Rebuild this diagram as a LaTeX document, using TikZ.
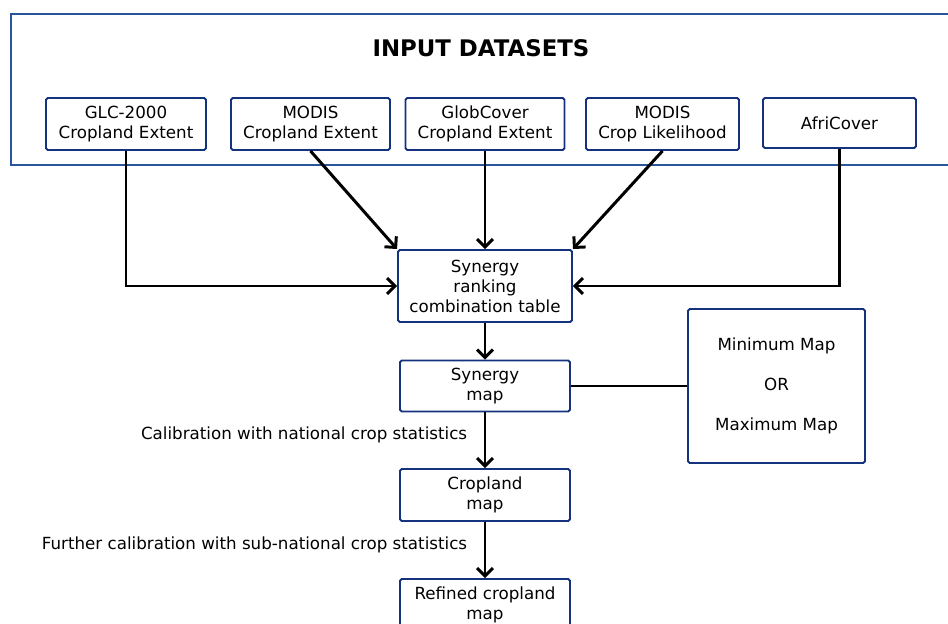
\documentclass[tikz,border=0pt]{standalone}
\usepackage{fontspec}
\setmainfont{DejaVu Sans}
\usepackage{xcolor}
\usepackage{tikz}
\usetikzlibrary{arrows.meta,calc}
\definecolor{boxblue}{RGB}{20,50,125}
\definecolor{frameblue}{RGB}{40,85,155}

\begin{document}
\begin{tikzpicture}[
  databox/.style={draw=boxblue,line width=1.1pt,rounded corners=1pt,align=center,inner sep=0pt,
    minimum height=1.04cm,font=\fontsize{9.5}{11.4}\selectfont},
  flow/.style={line width=1.7pt,-{Straight Barb[length=4.5pt,width=9pt]}},
  note/.style={font=\fontsize{9.5}{11.4}\selectfont}]
\clip (0cm,0cm) rectangle (18.96cm,-12.48cm);
\draw[frameblue,line width=1.1pt] (0.22cm,-0.28cm) rectangle (19.3cm,-3.3cm);
\node[font=\bfseries\fontsize{13}{15}\selectfont] (title) at (9.62cm,-0.96cm) {INPUT DATASETS};
\node[databox,minimum width=3.2cm] (glc) at (2.52cm,-2.48cm) {GLC-2000\\Cropland Extent};
\node[databox,minimum width=3.18cm] (modisce) at (6.21cm,-2.48cm) {MODIS\\Cropland Extent};
\node[databox,minimum width=3.18cm] (globcover) at (9.70cm,-2.48cm) {GlobCover\\Cropland Extent};
\node[databox,minimum width=3.06cm] (modiscl) at (13.25cm,-2.48cm) {MODIS\\Crop Likelihood};
\node[databox,minimum width=3.06cm,minimum height=1.0cm] (africover) at (16.79cm,-2.46cm) {AfriCover};
\node[databox,minimum width=3.48cm,minimum height=1.44cm] (table) at (9.70cm,-5.72cm) {Synergy\\ranking\\combination table};
\node[databox,minimum width=3.4cm,minimum height=1.02cm] (synmap) at (9.70cm,-7.72cm) {Synergy\\map};
\node[databox,minimum width=3.54cm,minimum height=3.08cm] (minmax) at (15.53cm,-7.72cm) {Minimum Map\\[11.3pt]OR\\[11.3pt]Maximum Map};
\node[databox,minimum width=3.4cm] (cropmap) at (9.70cm,-9.90cm) {Cropland\\map};
\node[databox,minimum width=3.4cm] (refined) at (9.70cm,-12.10cm) {Refined cropland\\map};
\draw[flow] (glc.south) |- (table.west);
\draw[flow] (modisce.south) -- (table.north west);
\draw[flow] (globcover.south) -- (table.north);
\draw[flow] (modiscl.south) -- (table.north east);
\draw[flow] (africover.south) |- (table.east);
\draw[flow] (table.south) -- (synmap.north);
\draw[line width=1.7pt] (synmap.east) -- (minmax.west);
\draw[flow] (synmap.south) -- node[note,left=6pt,pos=0.41] (calnat) {Calibration with national crop statistics} (cropmap.north);
\draw[flow] (cropmap.south) -- node[note,left=6pt,pos=0.41] (calsub) {Further calibration with sub-national crop statistics} (refined.north);
\end{tikzpicture}
\end{document}
